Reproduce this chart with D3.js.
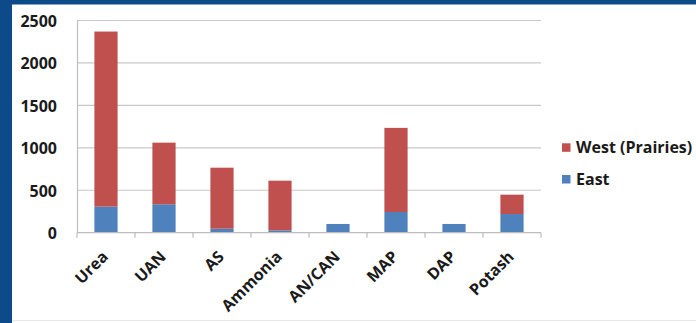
<!DOCTYPE html>
<html>
<head>
<meta charset="utf-8">
<script src="https://cdn.jsdelivr.net/npm/d3@7"></script>
<style>
  html, body { margin: 0; padding: 0; background: #ffffff; }
  svg { display: block; }
  text { font-family: "Open Sans", "Liberation Sans", Arial, sans-serif; font-weight: bold; fill: #1a1a1a; }
</style>
</head>
<body>
<svg id="chart" width="696" height="323"></svg>
<script>
// Fertilizer volumes by product, stacked East / West (Prairies)
const categories = ["Urea", "UAN", "AS", "Ammonia", "AN/CAN", "MAP", "DAP", "Potash"];
const eastValues = [307, 335, 47, 28, 103, 244, 103, 220];
const westValues = [2063, 726, 719, 585, 0, 991, 0, 228];
const yTicks = [0, 500, 1000, 1500, 2000, 2500];
const seriesNames = ["West (Prairies)", "East"];
const seriesColors = { "East": "#4f81bd", "West (Prairies)": "#c0504d" };

const FONT = "'Open Sans', 'Liberation Sans', Arial, sans-serif";
const svg = d3.select("#chart");
const W = 696, H = 323;

// slide frame: dark blue bands at left and top
svg.append("rect").attr("x", 0).attr("y", 0).attr("width", W).attr("height", H).attr("fill", "#ffffff");
svg.append("rect").attr("x", 0).attr("y", 0).attr("width", W).attr("height", 4).attr("fill", "#0d4a8a");
svg.append("rect").attr("x", 0).attr("y", 4).attr("width", W).attr("height", 1).attr("fill", "#7fa3c8");
svg.append("rect").attr("x", 0).attr("y", 0).attr("width", 12).attr("height", H).attr("fill", "#0d4a8a");
svg.append("rect").attr("x", 12).attr("y", 320).attr("width", W - 12).attr("height", 1).attr("fill", "#e6e6e6");

const left = 77, right = 541;
const plotW = right - left;
const x = d3.scaleBand().domain(categories).range([left, right]).paddingInner(0.6).paddingOuter(0.3);
const y = d3.scaleLinear().domain([0, 2500]).range([232.7, 20.5]);

// horizontal gridlines
svg.append("g").selectAll("line").data(yTicks.filter(d => d > 0)).join("line")
  .attr("x1", left).attr("x2", right)
  .attr("y1", d => y(d)).attr("y2", d => y(d))
  .attr("stroke", "#c8c8c8").attr("stroke-width", 1.2);

// y axis labels and line
const yAxis = svg.append("g").attr("transform", `translate(${left},0)`)
  .call(d3.axisLeft(y).tickValues(yTicks).tickFormat(d3.format("d")).tickSize(0).tickPadding(20));
yAxis.select(".domain").attr("stroke", "#bdbdbd").attr("stroke-width", 1.2);
yAxis.selectAll("text").style("font-size", "16px").style("font-family", FONT)
  .style("font-weight", "bold").attr("fill", "#1a1a1a").attr("dy", "0.36em");

// stacked bars
const rows = categories.map((c, i) => ({ cat: c, "East": eastValues[i], "West (Prairies)": westValues[i] }));
const stack = d3.stack().keys(["East", "West (Prairies)"])(rows);
svg.append("g").selectAll("g").data(stack).join("g")
  .attr("fill", s => seriesColors[s.key])
  .selectAll("rect").data(s => s).join("rect")
  .attr("x", d => x(d.data.cat))
  .attr("width", x.bandwidth())
  .attr("y", d => y(d[1]))
  .attr("height", d => y(d[0]) - y(d[1]));

// x axis with ticks between categories
const xBoundaries = d3.range(categories.length + 1).map(i => left + i * (plotW / categories.length));
const xAxisG = svg.append("g");
xAxisG.append("line").attr("x1", left).attr("x2", right).attr("y1", y(0)).attr("y2", y(0))
  .attr("stroke", "#bdbdbd").attr("stroke-width", 1.2);
xAxisG.selectAll("line.tick").data(xBoundaries).join("line").attr("class", "tick")
  .attr("x1", d => d).attr("x2", d => d).attr("y1", y(0)).attr("y2", y(0) + 5)
  .attr("stroke", "#bdbdbd").attr("stroke-width", 1.2);

// rotated category labels
svg.append("g").selectAll("text").data(categories).join("text")
  .attr("transform", d => `translate(${x(d) + x.bandwidth() / 2 + 3},${y(0) + 25}) rotate(-45)`)
  .attr("text-anchor", "end")
  .style("font-size", "16px")
  .text(d => d);

// legend
const legend = svg.append("g");
seriesNames.forEach((name, i) => {
  const ly = 147.3 + i * 31.7;
  legend.append("rect").attr("x", 562).attr("y", ly - 4).attr("width", 8.5).attr("height", 8.5)
    .attr("fill", seriesColors[name]);
  legend.append("text").attr("x", 576).attr("y", ly).attr("dy", "0.36em")
    .style("font-size", "16px").text(name);
});
</script>
</body>
</html>
